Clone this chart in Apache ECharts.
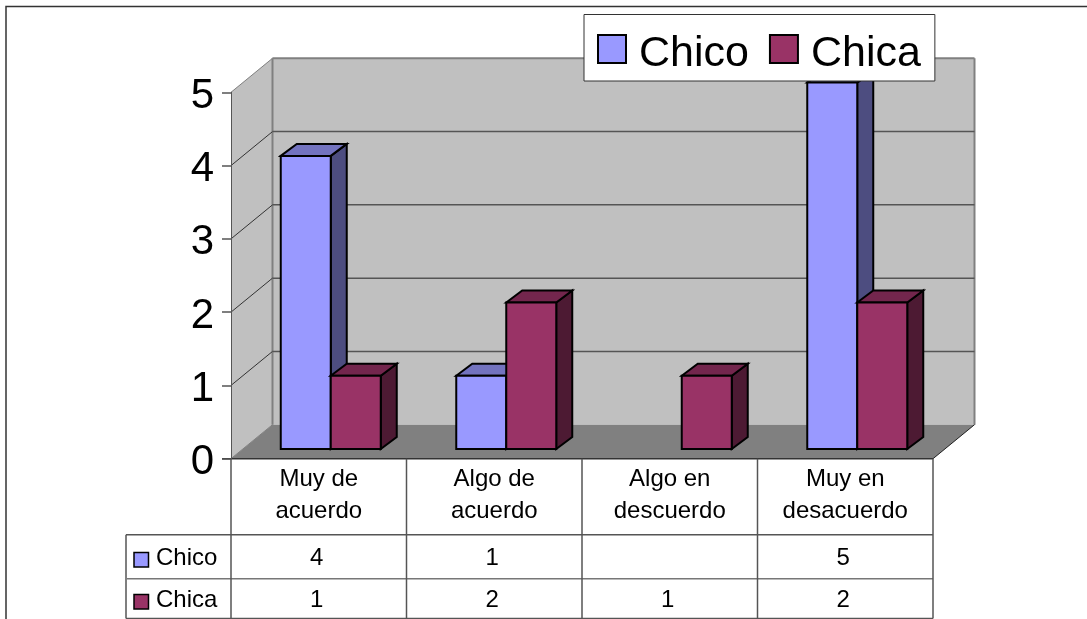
<!DOCTYPE html>
<html><head><meta charset="utf-8">
<style>html,body{margin:0;padding:0;background:#fff}#c{width:1087px;height:619px}</style>
<script src="https://cdn.jsdelivr.net/npm/echarts@6/dist/echarts.min.js"></script>
</head><body><div id="c"></div>
<script>
var categories = ['Muy de\nacuerdo', 'Algo de\nacuerdo', 'Algo en\ndescuerdo', 'Muy en\ndesacuerdo'];
var chico = [4, 1, null, 5];
var chica = [1, 2, 1, 2];
var yTicks = [0, 1, 2, 3, 4, 5];

var FONT = '"Liberation Sans", Arial, sans-serif';
var GL = 231, GT = 92.3, GW = 702, GH = 366.4;
var WALL_DX = 41.5, WALL_DY = -34;
var BAR_W = 50, BAR_SHIFT_X = 12, BAR_SHIFT_Y = -9.7, D_X = 16, D_Y = -12;
var ROW_Y = [558, 600];
var COLORS = [
  {front:'#9999FF', top:'#7373BF', side:'#4D4D80'},
  {front:'#993366', top:'#73264D', side:'#4D1A33'}
];
var chart = echarts.init(document.getElementById('c'), null, {renderer:'canvas'});

function poly(pts, fill, stroke, lw){
  return {type:'polygon', shape:{points:pts}, silent:true,
    style:{fill:fill, stroke:stroke||null, lineWidth:lw||0, lineJoin:'miter'}};
}
function line(x1,y1,x2,y2,c,w){
  return {type:'line', shape:{x1:x1,y1:y1,x2:x2,y2:y2}, silent:true, style:{stroke:c,lineWidth:w,fill:null}};
}
function txt(t,x,y,align,size){
  return {type:'text', silent:true, style:{text:t,x:x,y:y,align:align,verticalAlign:'middle',
    textAlign:align,textVerticalAlign:'middle',fontSize:size,fontFamily:FONT,fill:'#000'}};
}

function renderFrame(params, api){
  var t = api.value(1);
  var p = api.coord([0, t]);
  var y = p[1], L = GL, R = GL + GW, ch = [];
  if (t === 0) {
    ch.push(poly([[L,y],[L+WALL_DX,y+WALL_DY],[L+WALL_DX,GT+WALL_DY],[L,GT]],'#C0C0C0'));
    ch.push(poly([[L+WALL_DX,y+WALL_DY],[R+WALL_DX,y+WALL_DY],[R+WALL_DX,GT+WALL_DY],[L+WALL_DX,GT+WALL_DY]],'#C0C0C0'));
    ch.push(poly([[L,y],[R,y],[R+WALL_DX,y+WALL_DY],[L+WALL_DX,y+WALL_DY]],'#808080'));
    ch.push(line(L+WALL_DX,GT+WALL_DY,L+WALL_DX,y+WALL_DY,'#808080',2));
    ch.push(line(R+WALL_DX,GT+WALL_DY,R+WALL_DX,y+WALL_DY,'#808080',2));
    ch.push(line(L,y,L+WALL_DX,y+WALL_DY,'#808080',1));
    ch.push(line(R,y,R+WALL_DX,y+WALL_DY,'#222',1));
    var rowA = 534.7, rowB = 578.7, bottom = 618.5;
    ch.push(line(222,y,R,y,'#333',1.5));
    ch.push(line(126,rowA,R,rowA,'#555',1.5));
    ch.push(line(127,rowB,R,rowB,'#777',1.5));
    ch.push(line(126,bottom,R,bottom,'#555',1.5));
    ch.push(line(126,rowA,126,bottom,'#555',1.5));
    for (var i = 0; i <= categories.length; i++) {
      var vx = L + GW * i / categories.length;
      ch.push(line(vx,y,vx,bottom,'#555',1.5));
    }
  } else {
    var isTop = t === yTicks[yTicks.length-1];
    ch.push(line(L,y,L+WALL_DX,y+WALL_DY,isTop?'#808080':'#333',1));
    ch.push(line(L+WALL_DX,y+WALL_DY,R+WALL_DX,y+WALL_DY,isTop?'#808080':'#555',isTop?2:1.5));
  }
  return {type:'group', children:ch};
}

function barRenderer(seriesIdx){
  return function(params, api){
    var c = api.coord([api.value(0), api.value(1)]);
    var b = api.coord([api.value(0), 0]);
    var x0 = b[0] + BAR_SHIFT_X + (seriesIdx === 0 ? -BAR_W : 0), x1 = x0 + BAR_W;
    var yb = b[1] + BAR_SHIFT_Y, yt = c[1] + BAR_SHIFT_Y;
    var col = COLORS[seriesIdx], s = '#000', w = 2;
    return {type:'group', children:[
      poly([[x1,yb],[x1+D_X,yb+D_Y],[x1+D_X,yt+D_Y],[x1,yt]],col.side,s,w),
      poly([[x0,yt],[x0+D_X,yt+D_Y],[x1+D_X,yt+D_Y],[x1,yt]],col.top,s,w),
      poly([[x0,yb],[x1,yb],[x1,yt],[x0,yt]],col.front,s,w)
    ]};
  };
}

function renderTable(params, api){
  var row = api.value(1), v = api.value(2);
  var cx = api.coord([api.value(0), 0])[0] - 2;
  return {type:'group', children: isNaN(v) ? [] : [txt(String(v), cx, ROW_Y[row], 'center', 24)]};
}

function renderRowHead(params, api){
  var row = api.value(1), y = ROW_Y[row] + 2;
  return {type:'group', children:[
    {type:'rect', silent:true, shape:{x:134,y:y-7.5,width:14.5,height:14.5},
      style:{fill:COLORS[row].front,stroke:'#000',lineWidth:1.5}},
    txt(row === 0 ? 'Chico' : 'Chica', 156, ROW_Y[row], 'left', 24)
  ]};
}

function tableData(){
  var out = [];
  [chico, chica].forEach(function(arr, r){
    arr.forEach(function(v, i){ if (v !== null) out.push([i, r, v]); });
  });
  return out;
}
function barData(arr){
  var out = [];
  arr.forEach(function(v, i){ if (v !== null) out.push([i, v]); });
  return out;
}

chart.setOption({
  animation:false,
  backgroundColor:'#fff',
  graphic:[{type:'polyline', silent:true, z:0,
    shape:{points:[[6,625],[6,6.5],[1095,6.5]]},
    style:{stroke:'#333',lineWidth:1.5,fill:null}}],
  grid:{left:GL, top:GT, width:GW, height:GH, containLabel:false},
  legend:{
    data:[
      {name:'Chico', itemStyle:{color:COLORS[0].front,borderColor:'#000',borderWidth:2}},
      {name:'Chica', itemStyle:{color:COLORS[1].front,borderColor:'#000',borderWidth:2}}
    ],
    left:584, top:14.5, orient:'horizontal', icon:'rect',
    itemWidth:28, itemHeight:28, itemGap:20,
    padding:[8,14,5.5,13],
    backgroundColor:'#fff', borderColor:'#333', borderWidth:1, borderRadius:0,
    selectedMode:false,
    formatter:'{a|{name}}',
    textStyle:{fontSize:43,fontFamily:FONT,color:'#000',
      rich:{a:{fontSize:43,fontFamily:FONT,color:'#000',lineHeight:48,padding:[10,0,0,8]}}}
  },
  xAxis:{type:'category', data:categories,
    axisLine:{show:false}, axisTick:{show:false}, splitLine:{show:false},
    axisLabel:{margin:5,fontSize:24,fontFamily:FONT,color:'#000',lineHeight:32,interval:0,hideOverlap:false}
  },
  yAxis:{type:'value', min:0, max:5, interval:1, z:3,
    axisLine:{show:true,lineStyle:{color:'#555',width:1}},
    axisTick:{show:true,length:9,lineStyle:{color:'#555',width:1.5}},
    splitLine:{show:false},
    axisLabel:{margin:17,color:'#000',formatter:'{a|{value}}',
      rich:{a:{fontSize:42,fontFamily:FONT,color:'#000',padding:[8,0,0,0]}}}
  },
  series:[
    {type:'custom', name:'frame', z:1, coordinateSystem:'cartesian2d', silent:true,
      data:yTicks.map(function(t){return [0,t];}), encode:{x:0,y:1}, renderItem:renderFrame},
    {type:'custom', name:'Chico', z:2, itemStyle:{color:COLORS[0].front}, silent:true,
      data:barData(chico), encode:{x:0,y:1}, renderItem:barRenderer(0)},
    {type:'custom', name:'Chica', z:2, itemStyle:{color:COLORS[1].front}, silent:true,
      data:barData(chica), encode:{x:0,y:1}, renderItem:barRenderer(1)},
    {type:'custom', name:'table', z:2, silent:true,
      data:tableData(), encode:{x:0}, renderItem:renderTable},
    {type:'custom', name:'rows', z:2, silent:true,
      data:[[0,0],[0,1]], encode:{x:0}, renderItem:renderRowHead}
  ]
});
</script></body></html>
